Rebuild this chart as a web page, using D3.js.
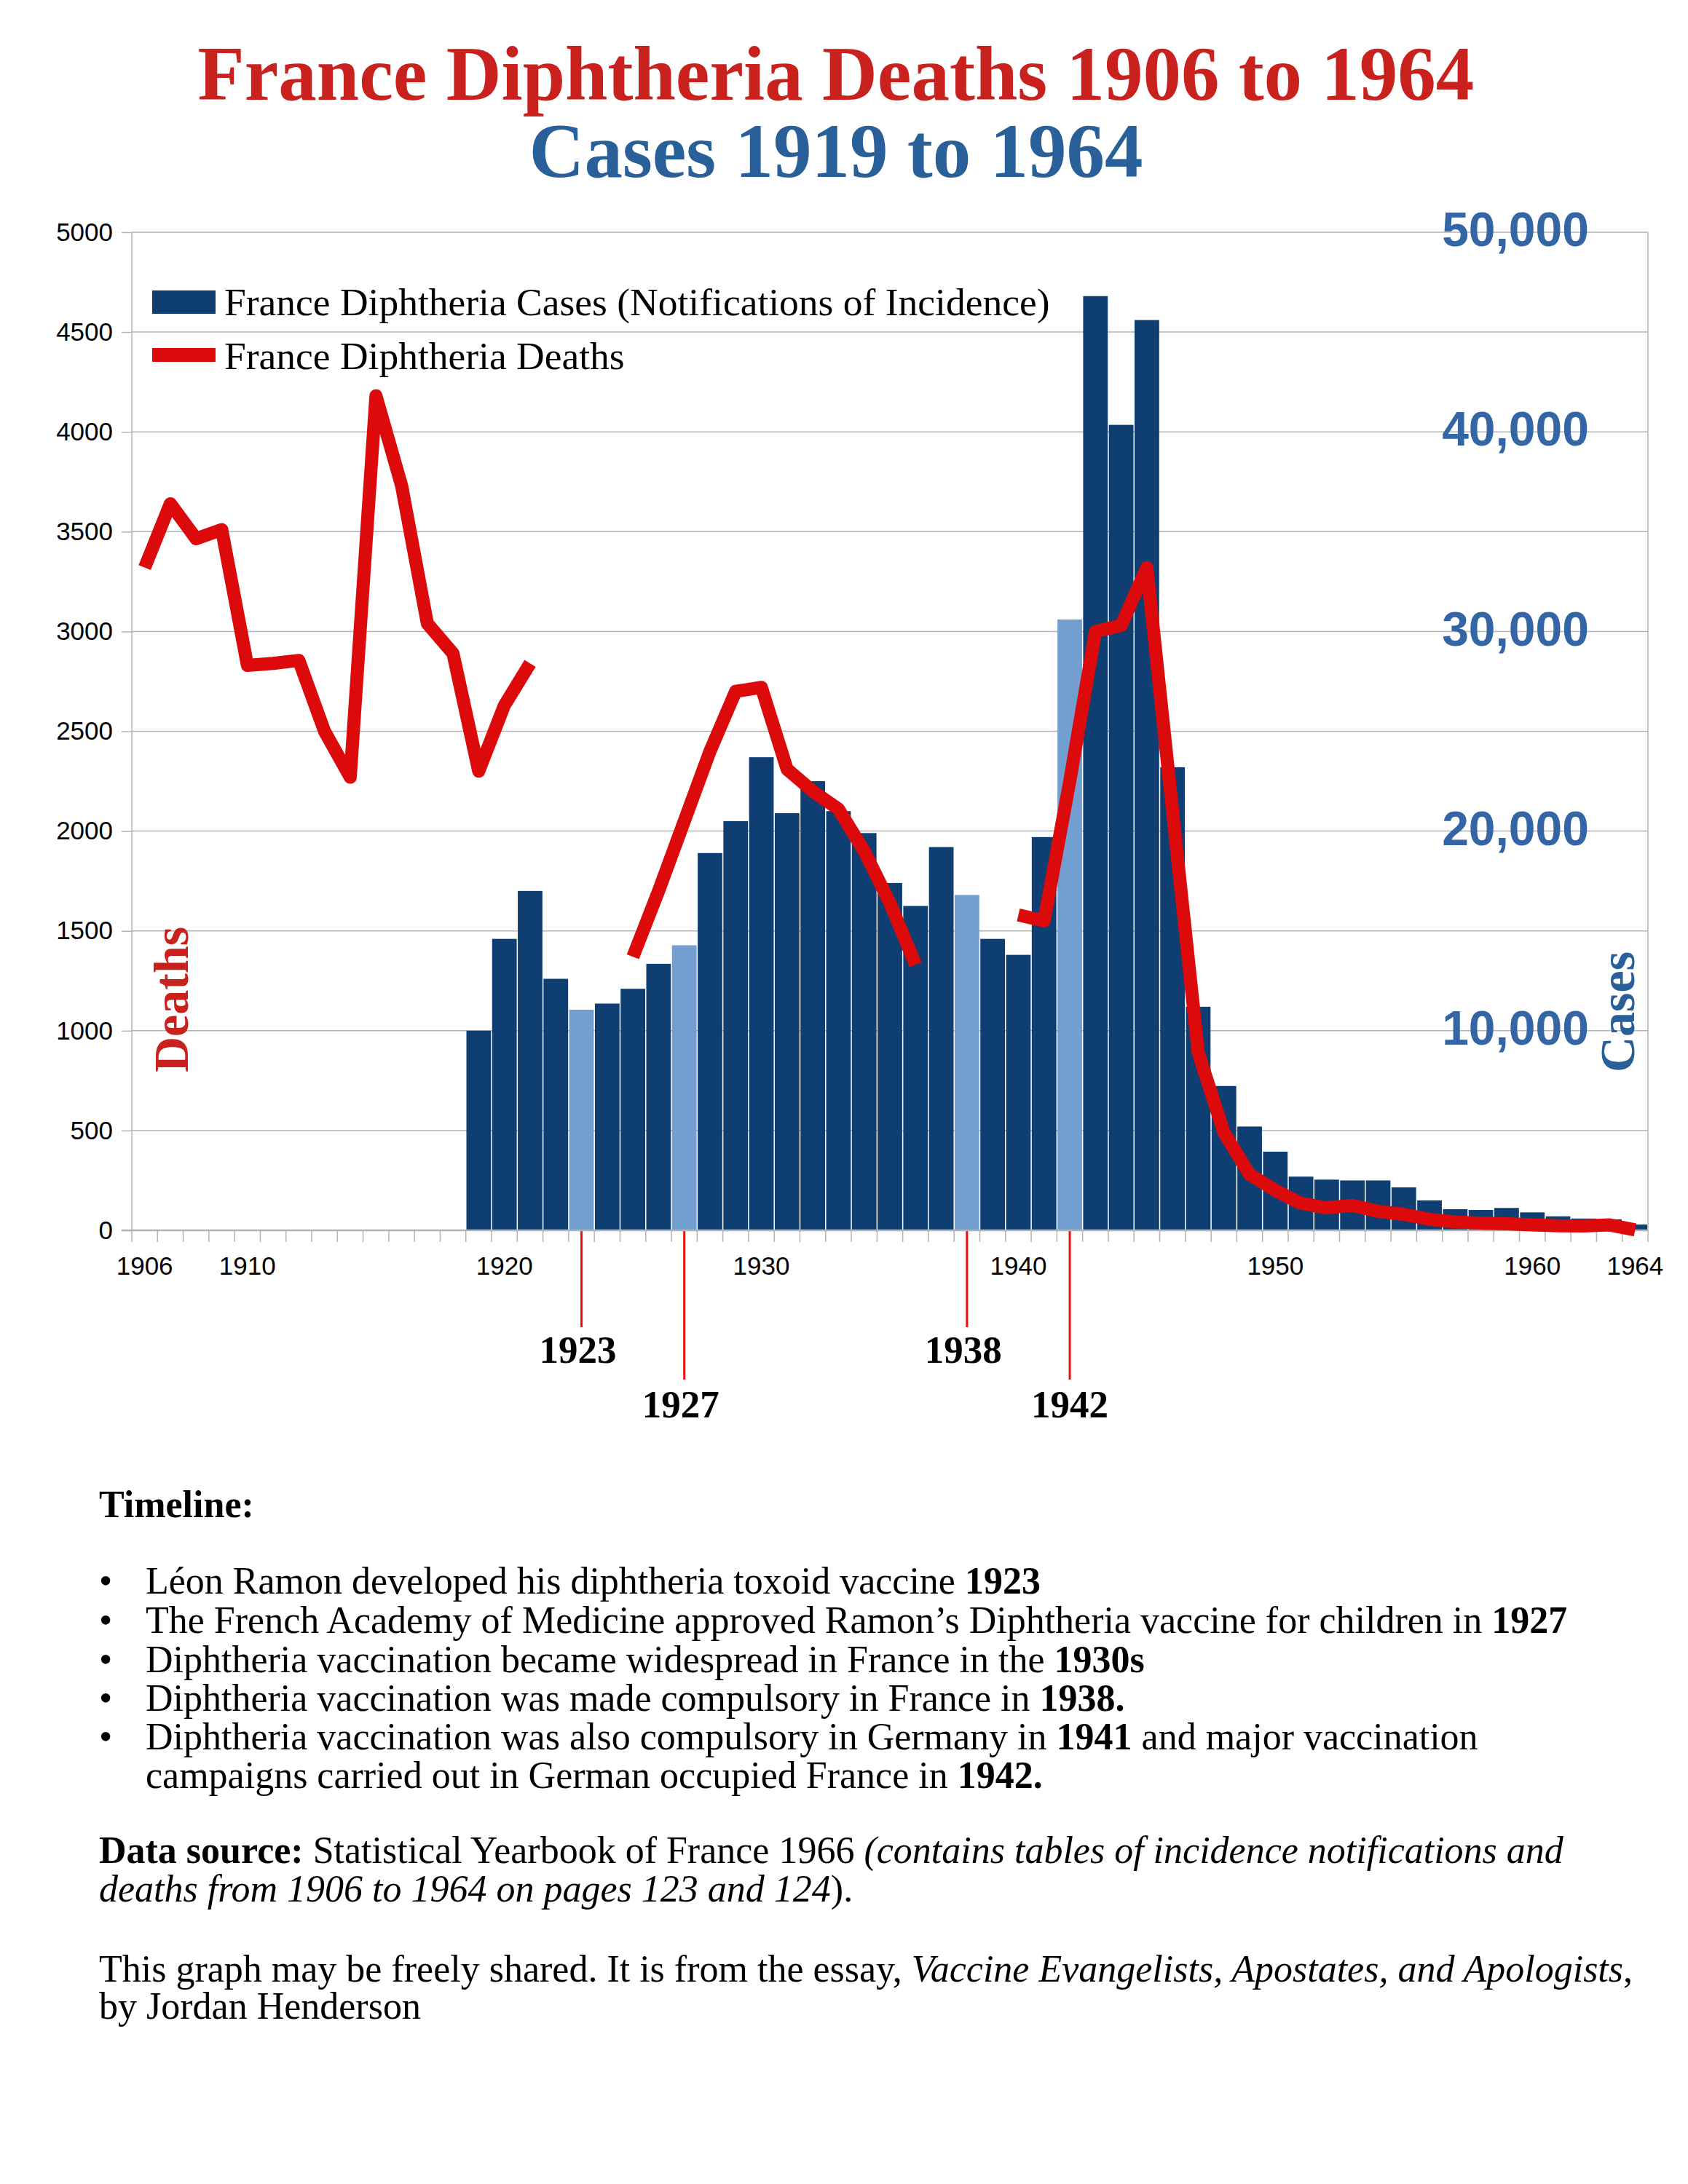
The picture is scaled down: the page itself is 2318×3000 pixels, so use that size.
<!DOCTYPE html>
<html>
<head>
<meta charset="utf-8">
<script src="https://cdn.jsdelivr.net/npm/d3@7/dist/d3.min.js"></script>
<style>
  body { margin: 0; background: #fff; }
</style>
</head>
<body>
<svg id="chart"></svg>
<script>
// categories: one per year
const years = [1906, 1907, 1908, 1909, 1910, 1911, 1912, 1913, 1914, 1915,
  1916, 1917, 1918, 1919, 1920, 1921, 1922, 1923, 1924, 1925,
  1926, 1927, 1928, 1929, 1930, 1931, 1932, 1933, 1934, 1935,
  1936, 1937, 1938, 1939, 1940, 1941, 1942, 1943, 1944, 1945,
  1946, 1947, 1948, 1949, 1950, 1951, 1952, 1953, 1954, 1955,
  1956, 1957, 1958, 1959, 1960, 1961, 1962, 1963, 1964];

// deaths (left axis), null = no data
const deaths = [3320, 3640, 3465, 3510, 2830, 2840, 2855, 2500, 2270, 4180,
  3730, 3040, 2890, 2300, 2630, 2840, null, null, null, 1370,
  1700, 2050, 2400, 2700, 2720, 2310, 2200, 2110, 1900, 1640,
  1330, null, null, null, 1580, 1550, 2250, 3000, 3030, 3320,
  2100, 890, 490, 280, 200, 135, 113, 125, 95, 80,
  55, 42, 36, 33, 27, 23, 22, 27, 2];

// cases / notifications (right axis), null = no data
const cases = [null, null, null, null, null, null, null, null, null, null,
  null, null, null, 10000, 14600, 17000, 12600, 11050, 11360, 12100,
  13350, 14280, 18900, 20500, 23700, 20900, 22500, 21000, 19900, 17400,
  16250, 19200, 16800, 14600, 13800, 19700, 30600, 46800, 40350, 45600,
  23200, 11200, 7230, 5200, 3940, 2690, 2540, 2500, 2500, 2150,
  1500, 1060, 1020, 1120, 900, 700, 590, 550, 290];

const highlightYears = [1923, 1927, 1938, 1942];
const markerYearsShort = [1923, 1938];
const markerYearsLong = [1927, 1942];
const xLabelYears = [1906, 1910, 1920, 1930, 1940, 1950, 1960, 1964];
const deathTicks = [0, 500, 1000, 1500, 2000, 2500, 3000, 3500, 4000, 4500, 5000];
const caseTicks = [10000, 20000, 30000, 40000, 50000];

const W = 2318, H = 3000;
const plot = {left: 181, right: 2263, top: 319, bottom: 1690};
const SERIF = "'Liberation Serif', 'Times New Roman', serif";
const SANS = "'Liberation Sans', Arial, sans-serif";
const GRID = "#b3b3b3";

const svg = d3.select("#chart").attr("width", W).attr("height", H);
svg.append("rect").attr("width", W).attr("height", H).attr("fill", "#fff");

// titres
svg.append("text").attr("x", 1148).attr("y", 137).attr("text-anchor", "middle")
  .attr("font-family", SERIF).attr("font-weight", "bold").attr("font-size", 105)
  .attr("fill", "#c9211e").text("France Diphtheria Deaths 1906 to 1964");
svg.append("text").attr("x", 1148).attr("y", 243).attr("text-anchor", "middle")
  .attr("font-family", SERIF).attr("font-weight", "bold").attr("font-size", 105)
  .attr("fill", "#2a6099").text("Cases 1919 to 1964");

// scales
const x = d3.scaleBand().domain(years).range([plot.left, plot.right]).padding(0);
const yD = d3.scaleLinear().domain([0, 5000]).range([plot.bottom, plot.top]);
const yC = d3.scaleLinear().domain([0, 50000]).range([plot.bottom, plot.top]);

// grille
svg.append("g").selectAll("line").data(deathTicks.filter(d => d > 0)).join("line")
  .attr("x1", plot.left).attr("x2", plot.right)
  .attr("y1", d => yD(d)).attr("y2", d => yD(d))
  .attr("stroke", GRID).attr("stroke-width", 1.5);

// axe gauche
const axL = svg.append("g").attr("transform", `translate(${plot.left},0)`)
  .call(d3.axisLeft(yD).tickValues(deathTicks).tickSize(14).tickPadding(12).tickFormat(d3.format("d")));
axL.select(".domain").remove();
axL.selectAll("line").attr("stroke", GRID).attr("stroke-width", 1.5);
axL.selectAll("text").attr("font-family", SANS).attr("font-size", 35).attr("fill", "#000");

// libellés droite (cases)
svg.append("g").selectAll("text").data(caseTicks).join("text")
  .attr("x", 2182).attr("y", d => yC(d)).attr("dy", "0.29em")
  .attr("text-anchor", "end").attr("font-family", SANS).attr("font-weight", "bold")
  .attr("font-size", 66).attr("fill", "#3465a4")
  .text(d => d3.format(",")(d));

// barres
const barData = years.map((yr, i) => ({year: yr, v: cases[i]})).filter(d => d.v != null);
svg.append("g").selectAll("rect").data(barData).join("rect")
  .attr("x", d => x(d.year) + 0.75)
  .attr("width", x.bandwidth() - 1.5)
  .attr("y", d => yC(d.v))
  .attr("height", d => plot.bottom - yC(d.v))
  .attr("fill", d => highlightYears.includes(d.year) ? "#729fcf" : "#0f3e73");

// cadre
svg.append("line").attr("x1", plot.left).attr("x2", plot.left).attr("y1", plot.top).attr("y2", plot.bottom)
  .attr("stroke", GRID).attr("stroke-width", 1.5);
svg.append("line").attr("x1", plot.right).attr("x2", plot.right).attr("y1", plot.top).attr("y2", plot.bottom + 16)
  .attr("stroke", GRID).attr("stroke-width", 1.5);

// ticks bas aux limites des catégories
svg.append("g").selectAll("line").data(years).join("line")
  .attr("x1", d => x(d)).attr("x2", d => x(d))
  .attr("y1", plot.bottom).attr("y2", plot.bottom + 16)
  .attr("stroke", GRID).attr("stroke-width", 1.5);

// annotations rouges
const markers = markerYearsShort.map(yr => ({year: yr, end: 1823, base: 1872}))
  .concat(markerYearsLong.map(yr => ({year: yr, end: 1895, base: 1947})));
const mg = svg.append("g");
mg.selectAll("line").data(markers).join("line")
  .attr("x1", d => x(d.year) + x.bandwidth() / 2).attr("x2", d => x(d.year) + x.bandwidth() / 2)
  .attr("y1", plot.bottom).attr("y2", d => d.end)
  .attr("stroke", "#e8110f").attr("stroke-width", 3);
mg.selectAll("text").data(markers).join("text")
  .attr("x", d => x(d.year) + x.bandwidth() / 2 - (d.year === 1942 ? 0 : 5)).attr("y", d => d.base)
  .attr("text-anchor", "middle").attr("font-family", SERIF).attr("font-weight", "bold")
  .attr("font-size", 53).attr("fill", "#000").text(d => d.year);

// axe du bas
svg.append("line").attr("x1", plot.left - 14).attr("x2", plot.right).attr("y1", plot.bottom).attr("y2", plot.bottom)
  .attr("stroke", GRID).attr("stroke-width", 2.5);
const axB = svg.append("g").attr("transform", `translate(0,${plot.bottom})`)
  .call(d3.axisBottom(x).tickValues(xLabelYears).tickSize(0).tickPadding(36));
axB.select(".domain").remove();
axB.selectAll("text").attr("font-family", SANS).attr("font-size", 35).attr("fill", "#000");

// ligne des décès
const lineData = years.map((yr, i) => ({year: yr, v: deaths[i]}));
const line = d3.line()
  .defined(d => d.v != null)
  .x(d => x(d.year) + x.bandwidth() / 2)
  .y(d => yD(d.v));
svg.append("path").datum(lineData).attr("d", line)
  .attr("fill", "none").attr("stroke", "#dc0a0a").attr("stroke-width", 18)
  .attr("stroke-linejoin", "round").attr("stroke-linecap", "butt");

// titres d'axes verticaux
svg.append("text").attr("transform", "translate(258,1473) rotate(-90)")
  .attr("font-family", SERIF).attr("font-weight", "bold").attr("font-size", 68)
  .attr("fill", "#c9211e").text("Deaths");
svg.append("text").attr("transform", "translate(2244,1473) rotate(-90)")
  .attr("font-family", SERIF).attr("font-weight", "bold").attr("font-size", 68)
  .attr("fill", "#2a6099").text("Cases");

// légende
const lg = svg.append("g");
lg.append("rect").attr("x", 209).attr("y", 399).attr("width", 87).attr("height", 32).attr("fill", "#0f3e73");
lg.append("rect").attr("x", 209).attr("y", 478).attr("width", 87).attr("height", 19).attr("fill", "#dc0a0a");
lg.append("text").attr("x", 308).attr("y", 433).attr("font-family", SERIF).attr("font-size", 53.5)
  .attr("fill", "#000").text("France Diphtheria Cases (Notifications of Incidence)");
lg.append("text").attr("x", 308).attr("y", 507).attr("font-family", SERIF).attr("font-size", 53.5)
  .attr("fill", "#000").text("France Diphtheria Deaths");

// bloc de texte
const textLines = [
  {x: 136, y: 2084, parts: [["Timeline:", "b"]]},
  {x: 200, y: 2189, bullet: true, parts: [["Léon Ramon developed his diphtheria toxoid vaccine ", ""], ["1923", "b"]]},
  {x: 200, y: 2243, bullet: true, parts: [["The French Academy of Medicine approved Ramon’s Diphtheria vaccine for children in ", ""], ["1927", "b"]]},
  {x: 200, y: 2297, bullet: true, parts: [["Diphtheria vaccination became widespread in France in the ", ""], ["1930s", "b"]]},
  {x: 200, y: 2350, bullet: true, parts: [["Diphtheria vaccination was made compulsory in France in ", ""], ["1938.", "b"]]},
  {x: 200, y: 2403, bullet: true, parts: [["Diphtheria vaccination was also compulsory in Germany in ", ""], ["1941", "b"], [" and major vaccination", ""]]},
  {x: 200, y: 2456, parts: [["campaigns carried out in German occupied France in ", ""], ["1942.", "b"]]},
  {x: 136, y: 2559, parts: [["Data source:", "b"], [" Statistical Yearbook of France 1966 ", ""], ["(contains tables of incidence notifications and", "i"]]},
  {x: 136, y: 2612, parts: [["deaths from 1906 to 1964 on pages 123 and 124", "i"], [").", ""]]},
  {x: 136, y: 2722, parts: [["This graph may be freely shared. It is from the essay, ", ""], ["Vaccine Evangelists, Apostates, and Apologists", "i"], [",", ""]]},
  {x: 136, y: 2773, parts: [["by Jordan Henderson", ""]]}
];
const tb = svg.append("g").attr("font-family", SERIF).attr("font-size", 52).attr("fill", "#000");
textLines.forEach(l => {
  if (l.bullet) {
    tb.append("text").attr("x", 136).attr("y", l.y).text("•");
  }
  const t = tb.append("text").attr("x", l.x).attr("y", l.y).attr("xml:space", "preserve");
  l.parts.forEach(p => {
    t.append("tspan")
      .attr("font-weight", p[1] === "b" ? "bold" : "normal")
      .attr("font-style", p[1] === "i" ? "italic" : "normal")
      .text(p[0]);
  });
});
</script>
</body>
</html>
